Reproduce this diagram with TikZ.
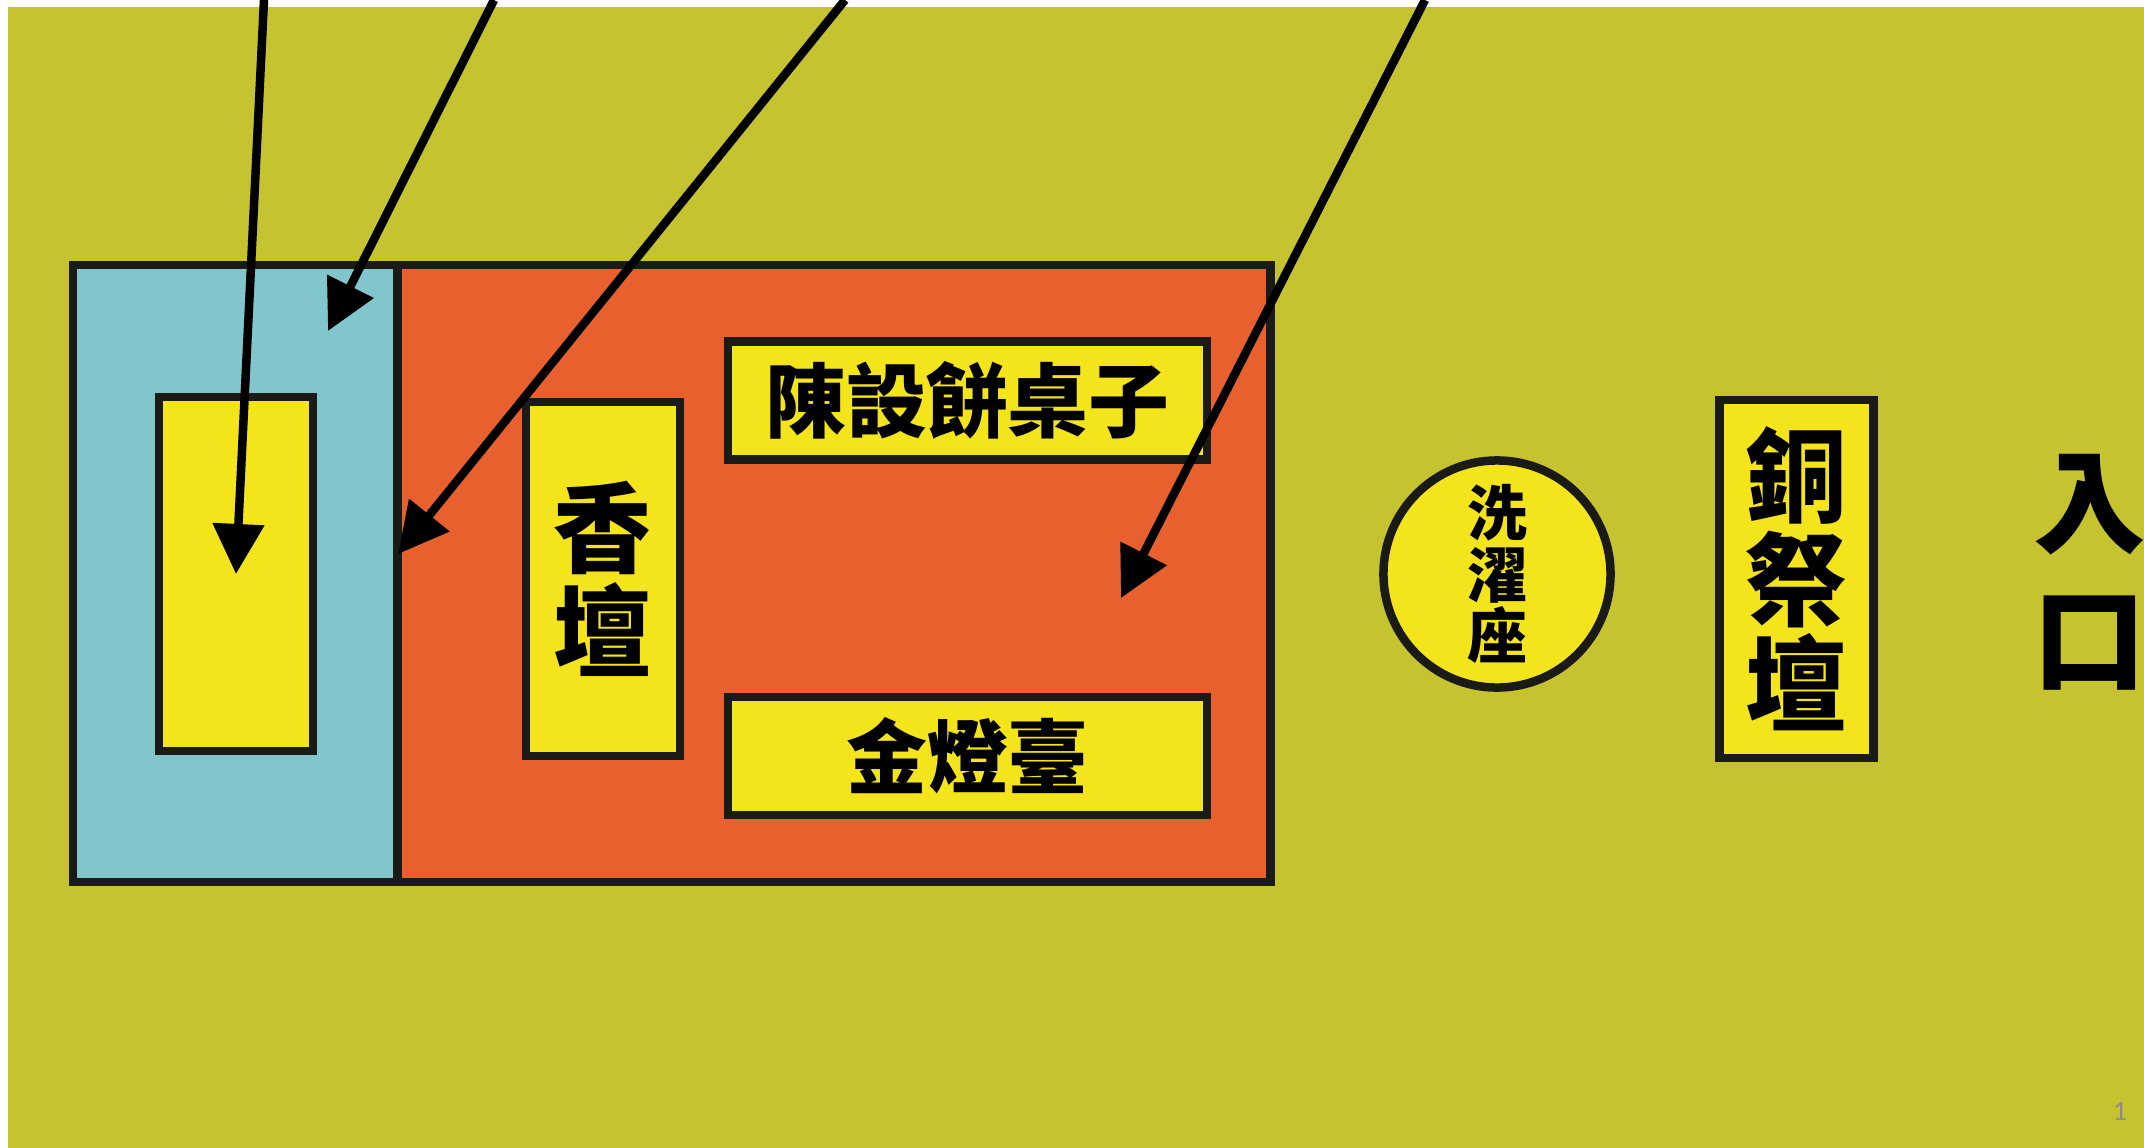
\documentclass[tikz,border=0pt]{standalone}
\usepackage{fontspec}
\newfontfamily\cjk{Noto Sans CJK TC}
\newfontfamily\pagefont{Carlito}
\usetikzlibrary{arrows.meta}
\definecolor{field}{HTML}{C6C331}
\definecolor{holyblue}{HTML}{80C6CC}
\definecolor{holyred}{HTML}{E8602E}
\definecolor{gold}{HTML}{F4E41C}
\definecolor{ink}{HTML}{1A1A16}
\definecolor{pagegray}{HTML}{8C8C8C}
\begin{document}
\begin{tikzpicture}[x=0.01cm, y=-0.01cm,
	room/.style={draw=ink, line width=0.085cm, minimum width=#1, minimum height=6.17cm, inner sep=0pt},
	box/.style={draw=ink, line width=0.085cm, fill=gold, inner sep=0pt},
	tallbox/.style={box, minimum width=1.54cm, minimum height=3.54cm},
	widebox/.style={box, minimum width=4.79cm, minimum height=1.18cm},
	pointer/.style={-{Triangle[length=0.5cm, width=0.5cm]}, line width=0.085cm, black}]
	\useasboundingbox (0,0) rectangle (2144,1148);
	\fill[white] (0,0) rectangle (2144,1148);
	\fill[field] (8,7) rectangle (2144,1148);

	\node[room=3.25cm, fill=holyblue] (hh) at (235.5,573.5) {};
	\node[room=8.72cm, fill=holyred] (hp) at (834,573.5) {};
	\node[tallbox] (ark) at (236,574) {};
	\node[tallbox, font=\cjk\bfseries\fontsize{28}{29.3}\selectfont, align=center] (ia) at (603,579) {香\\壇};
	\node[widebox, font=\cjk\bfseries\fontsize{23}{24}\selectfont] (tb) at (967.5,400.5) {陳設餅桌子};
	\node[widebox, font=\cjk\bfseries\fontsize{23}{24}\selectfont] (ls) at (967.5,756) {金燈臺};
	\node[box, circle, minimum size=2.27cm, font=\cjk\bfseries\fontsize{17}{17.6}\selectfont, align=center] (lv) at (1497,574) {洗\\濯\\座};
	\node[tallbox, minimum height=3.58cm, font=\cjk\bfseries\fontsize{29}{29.6}\selectfont, align=center] (ba) at (1796.5,579) {銅\\祭\\壇};
	\node[font=\cjk\bfseries\fontsize{32}{39}\selectfont, align=center] (ent) at (2090,572) {入\\口};
	\node[font=\pagefont\fontsize{8}{9}\selectfont, text=pagegray] (pg) at (2120,1111) {1};

	\coordinate (s1) at (264,0);
	\coordinate (s2) at (494,0);
	\coordinate (s3) at (845,0);
	\coordinate (s4) at (1425,0);
	\coordinate (t2) at (328,331);
	\coordinate (t3) at (398,554);
	\coordinate (t4) at (1121,598);
	\draw[pointer] (s1) to (ark.center);
	\draw[pointer] (s2) to (t2);
	\draw[pointer] (s3) to (t3);
	\draw[pointer] (s4) to (t4);
\end{tikzpicture}
\end{document}
